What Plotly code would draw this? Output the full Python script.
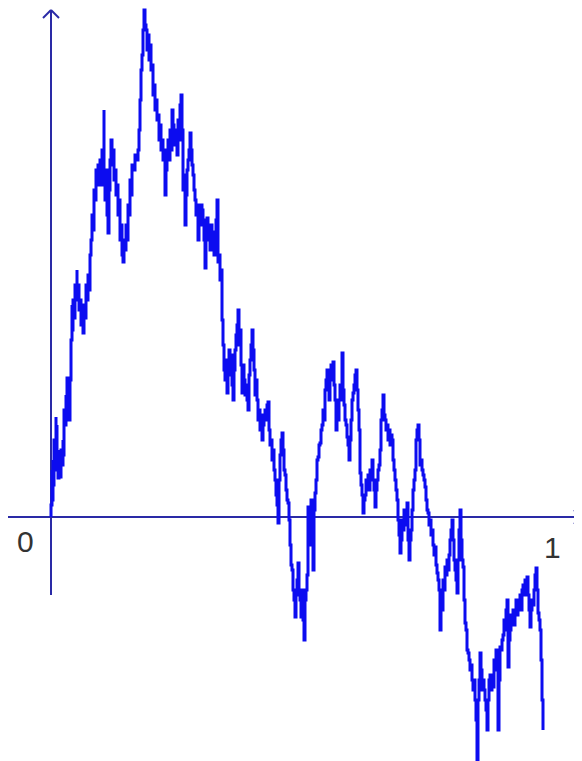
import plotly.graph_objects as go

# sampled path: step index (out of N_STEPS) and level (in units of 1/LEVEL_UNIT)
N_STEPS = 497
LEVEL_UNIT = 250

steps = [0, 0, 1, 1, 2, 2, 3, 4, 5, 5, 6, 6, 7, 7, 8, 9, 10, 11, 12, 12,
         13, 14, 15, 15, 16, 17, 18, 18, 19, 20, 21, 21, 22, 23, 24, 25, 26, 26, 27, 28,
         29, 30, 31, 32, 33, 34, 35, 36, 37, 38, 39, 40, 41, 42, 43, 44, 45, 46, 47, 48,
         49, 50, 51, 52, 53, 53, 54, 55, 56, 57, 58, 59, 60, 61, 62, 63, 64, 65, 66, 67,
         68, 69, 70, 71, 72, 73, 74, 75, 76, 77, 78, 79, 80, 81, 82, 84, 85,
         87, 88, 89, 90, 91, 92, 93, 94, 95, 96, 97, 98, 99, 100, 101, 102, 103, 104, 105,
         106, 107, 108, 109, 110, 111, 112, 113, 114, 115, 116, 117, 118, 119, 120, 121, 122, 123, 124, 125,
         126, 127, 128, 129, 130, 131, 132, 133, 134, 135, 136, 137, 138, 139, 140, 141, 142, 143, 144, 145,
         146, 147, 148, 149, 150, 151, 152, 153, 154, 155, 156, 157, 158, 159, 160, 161, 162, 163, 164, 165,
         166, 167, 168, 169, 170, 171,
         172, 173, 174, 175, 176, 177, 178, 179, 180, 181, 182, 183, 184, 185, 186, 187, 188, 189, 190, 191,
         192, 193, 194, 195, 196, 197, 198, 199, 200, 201, 202, 203, 204, 205, 206, 207, 208, 209, 210, 211,
         212, 213, 214, 215, 216, 217, 218, 219, 220, 221, 222, 223, 224, 225, 226, 227, 228, 229, 230, 231,
         232, 233, 234, 235, 236, 237, 238, 239, 240, 241, 242, 243, 244, 245, 246, 247, 248, 249, 250, 251,
         252, 253, 254, 255, 256, 257, 258, 259, 260, 261, 262, 263, 264, 265, 266, 267,
         268, 269, 270, 271, 272, 273, 274, 275, 276, 277, 278, 279, 280, 281, 282, 283, 284, 285, 286, 287,
         288, 289, 290, 291, 292, 293, 294, 295, 296, 297, 298, 299, 300, 301, 302, 303, 304, 305, 306, 307,
         308, 309, 310, 311, 312, 313, 314, 315, 316, 317, 318, 319, 320, 321, 322, 323, 324, 325, 326, 327,
         328, 329, 330, 331, 332, 333, 334, 335, 336, 337, 338, 339, 340, 341, 342, 343, 344, 345, 346, 347,
         348, 349, 350, 351, 352, 353, 354, 355, 356, 357, 358, 359, 360, 361, 362, 363, 364, 365, 366, 367,
         368, 369, 370, 371, 372, 373, 374, 375, 376, 377, 378, 379, 380, 381, 382, 383, 384, 385, 386,
         387, 388, 389, 390, 391, 392, 393, 394, 395, 396, 397, 398, 399, 400, 401, 402, 403, 404, 405, 406,
         407, 408, 409, 410, 411, 412, 413, 414, 415, 416, 417, 418, 419, 420, 421, 422, 423, 424, 425, 426,
         427, 428, 429, 430, 431, 432, 433, 434, 435, 436, 437, 438, 439, 440, 441, 442, 443, 444, 445, 446,
         447, 448, 449, 450, 451, 452, 453, 454, 455, 456, 457, 458, 459, 460, 461, 462, 463, 464, 465, 466,
         467, 468, 469, 470, 471, 472, 473, 474, 475, 476, 477, 478, 479, 480, 481, 482, 483, 484, 485, 486,
         487, 488, 489, 490, 491, 492]

levels = [0, 12, 47, 17, 57, 32, 77, 47, 100, 72, 92, 52, 67, 39, 55, 40, 67, 52, 77, 62,
          107, 92, 122, 102, 139, 112, 132, 97, 137, 177, 212, 187, 217, 199, 232, 217, 247, 222, 232, 207,
          217, 192, 207, 184, 212, 199, 232, 217, 242, 227, 262, 277, 302, 287, 327, 317, 347, 332, 352, 339,
          357, 332, 367, 347, 407, 342, 317, 347, 302, 284, 327, 357, 377, 352, 367, 337, 347, 322, 332, 302,
          317, 277, 292, 262, 255, 277, 267, 292, 277, 312, 302, 337, 322, 352, 347, 362, 357,
          367, 387, 417, 447, 462, 487, 507, 492, 487, 467, 482, 457, 472, 447, 452, 422, 432, 407, 417,
          397, 402, 377, 392, 367, 377, 357, 367, 322, 347, 362, 377, 357, 387, 367, 407, 392, 382, 372, 387,
          362, 397, 377, 412, 422, 387, 327, 342, 292, 322, 347, 357, 367, 384, 367, 352, 342, 327, 317, 302,
          312, 277, 302, 292, 312, 307, 297, 277, 249, 287, 299, 277, 292, 267, 292, 272, 285, 262, 277, 297,
          317, 255, 262, 237, 247, 197,
          172, 147, 137, 157, 124, 152, 167, 142, 162, 132, 117, 147, 167, 182, 192, 207, 172, 187, 152, 124,
          152, 137, 122, 132, 117, 107, 142, 157, 172, 187, 167, 147, 122, 137, 117, 97, 107, 87, 102, 77,
          92, 97, 107, 97, 112, 115, 87, 72, 77, 57, 67, 47, 37, 22, 12, -6, 37, 62, 77, 84,
          67, 47, 42, 27, 17, 14, -3, -28, -48, -53, -73, -83, -100, -78, -63, -46, -73, -83, -100, -73,
          -103, -123, -83, -73, -58, 10, -3, -28, 17, -3, -53, 7, 24, 37, 57, 60,
          72, 74, 87, 92, 107, 97, 127, 137, 147, 132, 117, 142, 152, 137, 155, 132, 117, 87, 107, 97,
          117, 132, 117, 164, 127, 112, 97, 92, 80, 72, 57, 77, 97, 117, 124, 132, 142, 147, 127, 107,
          87, 44, 32, 22, 4, 17, 22, 37, 27, 42, 27, 47, 37, 57, 37, 27, 10, 27, 37, 47,
          52, 67, 97, 107, 122, 102, 97, 87, 92, 77, 87, 72, 82, 77, 57, 47, 37, 27, 17, -3,
          -18, -36, -23, -3, -13, 7, -8, 7, 14, -23, -43, -23, -13, 7, 27, 37, 47, 77, 87, 92,
          77, 52, 57, 47, 42, 37, 30, 17, 7, 4, -8, -3, -18, -13, -28, -38, -30, -48, -56,
          -63, -73, -113, -83, -93, -63, -73, -50, -58, -43, -53, -38, -23, -13, -3, -23, -43, -53, -63, -76,
          -43, -13, 7, -23, -43, -50, -83, -106, -113, -133, -136, -143, -153, -148, -163, -173, -163, -183, -203, -243,
          -183, -163, -136, -153, -173, -163, -173, -183, -193, -213, -183, -163, -158, -173, -163, -170, -143, -153, -133, -143,
          -213, -163, -130, -133, -123, -118, -103, -113, -93, -83, -150, -123, -113, -98, -103, -93, -108, -93, -83, -98,
          -83, -88, -78, -93, -73, -68, -78, -63, -73, -60, -78, -93, -110, -93, -83, -88, -73, -58, -51, -73,
          -96, -103, -113, -143, -183, -213]

axis_labels = ["0", "1"]

t = [k / N_STEPS for k in steps]
w = [v / LEVEL_UNIT for v in levels]

# the page body has an 8px margin, so the figure is 8px smaller each way
OFF = 8
W, H = 582 - OFF, 761 - OFF
AXIS = '#2a2aa6'
PATH = '#0c0cf0'


def px(x):
    return (x - OFF) / W


def py(y):
    return 1 - (y - OFF) / H


fig = go.Figure(go.Scatter(x=t, y=w, mode='lines', line=dict(color=PATH, width=3, shape='hv'),
                           hoverinfo='skip'))

shapes = [
    # x axis + arrow
    dict(type='line', x0=px(8), x1=px(580), y0=py(517), y1=py(517)),
    dict(type='line', x0=px(574), x1=px(581), y0=py(510), y1=py(517)),
    dict(type='line', x0=px(574), x1=px(581), y0=py(524), y1=py(517)),
    # y axis + arrow
    dict(type='line', x0=px(51), x1=px(51), y0=py(595), y1=py(10)),
    dict(type='line', x0=px(43), x1=px(51), y0=py(18), y1=py(10)),
    dict(type='line', x0=px(59), x1=px(51), y0=py(18), y1=py(10)),
]
for s in shapes:
    s.update(xref='paper', yref='paper', line=dict(color=AXIS, width=2), layer='below')

fig.update_layout(
    width=W, height=H,
    margin=dict(l=0, r=0, t=0, b=0),
    paper_bgcolor='white', plot_bgcolor='white',
    showlegend=False,
    shapes=shapes,
    xaxis=dict(range=[(OFF - 51) / N_STEPS, (582 - 51) / N_STEPS], visible=False, fixedrange=True),
    yaxis=dict(range=[(517 - 761) / LEVEL_UNIT, (517 - OFF) / LEVEL_UNIT], visible=False, fixedrange=True),
    annotations=[
        dict(text=axis_labels[0], x=px(25), y=py(541), xref='paper', yref='paper', showarrow=False,
             xanchor='center', yanchor='middle',
             font=dict(family='Liberation Sans, Arial', size=30, color='#333333')),
        dict(text=axis_labels[1], x=px(552), y=py(547), xref='paper', yref='paper', showarrow=False,
             xanchor='center', yanchor='middle',
             font=dict(family='Liberation Sans, Arial', size=30, color='#333333')),
    ],
)

fig.write_html("out.html")
